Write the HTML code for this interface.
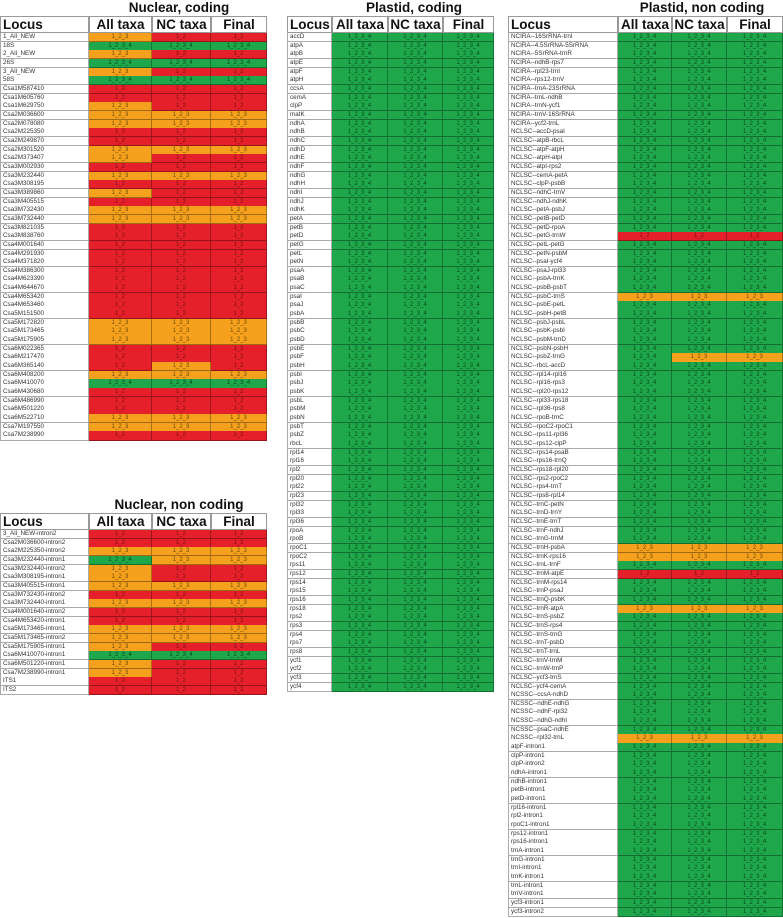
<!DOCTYPE html>
<html><head><meta charset="utf-8">
<style>
html,body{margin:0;padding:0;background:#fff;width:783px;height:918px;overflow:hidden;font-family:"Liberation Sans",Arial,sans-serif;}
#root{position:relative;width:783px;height:918px;}
.t{position:absolute;font-weight:bold;font-size:13.5px;color:#111;white-space:nowrap;transform:translateX(-50%);}
.c{position:absolute;box-sizing:border-box;overflow:hidden;white-space:nowrap;}
.loc{background:#fff;border:1px solid #aaa;border-top:none;font-size:6.3px;color:#333;padding-left:2px;line-height:8px;}
.hd{background:#fff;border:1px solid #999;font-size:13.5px;font-weight:bold;color:#111;line-height:16px;text-align:center;}
.v{border-right:1px solid rgba(0,0,0,0.3);border-bottom:1px solid rgba(0,0,0,0.35);font-size:6px;text-align:center;line-height:8px;}
.r{background:#e5202a;color:#7a1010;}
.o{background:#f6a11d;color:#6b4a00;}
.g{background:#1ea84b;color:#0c4a1e;}
</style></head><body>
<div id="root"></div>
<script>
// ---- data ----
const ncLoci = ["1_All_NEW","18S","2_All_NEW","26S","3_All_NEW","58S","Csa1M587410","Csa1M605760","Csa1M629750","Csa2M036600","Csa2M078080","Csa2M225350","Csa2M249870","Csa2M301520","Csa2M373407","Csa3M002930","Csa3M232440","Csa3M308195","Csa3M389860","Csa3M405515","Csa3M732430","Csa3M732440","Csa3M821035","Csa3M838760","Csa4M001640","Csa4M291930","Csa4M371820","Csa4M386300","Csa4M623390","Csa4M644670","Csa4M653420","Csa4M653460","Csa5M151500","Csa5M172820","Csa5M173465","Csa5M175905","Csa6M022365","Csa6M217470","Csa6M365140","Csa6M408200","Csa6M410070","Csa6M430680","Csa6M486990","Csa6M501220","Csa6M522710","Csa7M197550","Csa7M238990"];
// codes per row: [All taxa, NC taxa, Final]; r=1_2, o=1_2_3, g=1_2_3_4
const ncCodes = ["orr","ggg","orr","ggg","orr","ggg","rrr","rrr","orr","ooo","ooo","rrr","rrr","ooo","orr","rrr","ooo","rrr","orr","rrr","ooo","ooo",
"rrr","rrr","rrr","rrr","rrr","rrr","rrr","rrr","rrr","rrr","rrr",
"ooo","ooo","ooo","rrr","rrr","ror","ooo","ggg","rrr","rrr","rrr","ooo","ooo","rrr"];

const nnLoci = ["3_All_NEW-intron2","Csa2M036600-intron2","Csa2M225350-intron2","Csa3M232440-intron1","Csa3M232440-intron2","Csa3M308195-intron1","Csa3M405515-intron1","Csa3M732430-intron2","Csa3M732440-intron1","Csa4M001640-intron2","Csa4M653420-intron1","Csa5M173465-intron1","Csa5M173465-intron2","Csa5M175905-intron1","Csa6M410070-intron1","Csa6M501220-intron1","Csa7M238990-intron1","ITS1","ITS2"];
const nnCodes = ["rrr","rrr","ooo","goo","orr","orr","ooo","rrr","ooo","rrr","rrr","ooo","ooo","orr","ggg","orr","orr","rrr","rrr"];

const pcLoci = ["accD","atpA","atpB","atpE","atpF","atpH","ccsA","cemA","clpP","matK","ndhA","ndhB","ndhC","ndhD","ndhE","ndhF","ndhG","ndhH","ndhI","ndhJ","ndhK","petA","petB","petD","petG","petL","petN","psaA","psaB","psaC","psaI","psaJ","psbA","psbB","psbC","psbD","psbE","psbF","psbH","psbI","psbJ","psbK","psbL","psbM","psbN","psbT","psbZ","rbcL","rpl14","rpl16","rpl2","rpl20","rpl22","rpl23","rpl32","rpl33","rpl36","rpoA","rpoB","rpoC1","rpoC2","rps11","rps12","rps14","rps15","rps16","rps18","rps2","rps3","rps4","rps7","rps8","ycf1","ycf2","ycf3","ycf4"];
const pcDefault = "ggg";

const pnLoci = ["NCIRA--16SrRNA-trnI","NCIRA--4.5SrRNA-5SrRNA","NCIRA--5SrRNA-trnR","NCIRA--ndhB-rps7","NCIRA--rpl23-trnI","NCIRA--rps12-trnV","NCIRA--trnA-23SrRNA","NCIRA--trnL-ndhB","NCIRA--trnN-ycf1","NCIRA--trnV-16SrRNA","NCIRA--ycf2-trnL",
"NCLSC--accD-psaI","NCLSC--atpB-rbcL","NCLSC--atpF-atpH","NCLSC--atpH-atpI","NCLSC--atpI-rps2","NCLSC--cemA-petA","NCLSC--clpP-psbB","NCLSC--ndhC-trnV","NCLSC--ndhJ-ndhK","NCLSC--petA-psbJ","NCLSC--petB-petD","NCLSC--petD-rpoA","NCLSC--petG-trnW","NCLSC--petL-petG","NCLSC--petN-psbM","NCLSC--psaI-ycf4","NCLSC--psaJ-rpl33","NCLSC--psbA-trnK","NCLSC--psbB-psbT","NCLSC--psbC-trnS","NCLSC--psbE-petL","NCLSC--psbH-petB","NCLSC--psbJ-psbL","NCLSC--psbK-psbI","NCLSC--psbM-trnD","NCLSC--psbN-psbH","NCLSC--psbZ-trnG","NCLSC--rbcL-accD","NCLSC--rpl14-rpl16","NCLSC--rpl16-rps3","NCLSC--rpl20-rps12","NCLSC--rpl33-rps18","NCLSC--rpl36-rps8","NCLSC--rpoB-trnC","NCLSC--rpoC2-rpoC1","NCLSC--rps11-rpl36","NCLSC--rps12-clpP","NCLSC--rps14-psaB","NCLSC--rps16-trnQ","NCLSC--rps18-rpl20","NCLSC--rps2-rpoC2","NCLSC--rps4-trnT","NCLSC--rps8-rpl14","NCLSC--trnC-petN","NCLSC--trnD-trnY","NCLSC--trnE-trnT","NCLSC--trnF-ndhJ","NCLSC--trnG-trnM","NCLSC--trnH-psbA","NCLSC--trnK-rps16","NCLSC--trnL-trnF","NCLSC--trnM-atpE","NCLSC--trnM-rps14","NCLSC--trnP-psaJ","NCLSC--trnQ-psbK","NCLSC--trnR-atpA","NCLSC--trnS-psbZ","NCLSC--trnS-rps4","NCLSC--trnS-trnG","NCLSC--trnT-psbD","NCLSC--trnT-trnL","NCLSC--trnV-trnM","NCLSC--trnW-trnP","NCLSC--ycf3-trnS","NCLSC--ycf4-cemA",
"NCSSC--ccsA-ndhD","NCSSC--ndhE-ndhG","NCSSC--ndhF-rpl32","NCSSC--ndhG-ndhI","NCSSC--psaC-ndhE","NCSSC--rpl32-trnL",
"atpF-intron1","clpP-intron1","clpP-intron2","ndhA-intron1","ndhB-intron1","petB-intron1","petD-intron1","rpl16-intron1","rpl2-intron1","rpoC1-intron1","rps12-intron1","rps16-intron1","trnA-intron1","trnG-intron1","trnI-intron1","trnK-intron1","trnL-intron1","trnV-intron1","ycf3-intron1","ycf3-intron2"];
const pnExceptions = {"NCLSC--petG-trnW":"rrr","NCLSC--psbC-trnS":"ooo","NCLSC--psbZ-trnG":"goo","NCLSC--trnH-psbA":"ooo","NCLSC--trnK-rps16":"ooo","NCLSC--trnM-atpE":"rrr","NCLSC--trnR-atpA":"ooo","NCSSC--rpl32-trnL":"ooo"};

const labels = {r:"1_2", o:"1_2_3", g:"1_2_3_4"};
const ROWH = 8.66;
const root = document.getElementById('root');

function mk(cls, x, y, w, h, txt){
  const d = document.createElement('div');
  d.className = cls;
  d.style.left = x+'px'; d.style.top = y+'px'; d.style.width = w+'px'; d.style.height = h+'px';
  if (txt !== undefined) d.textContent = txt;
  root.appendChild(d);
  return d;
}

function table(name, title, titleX, titleY, cols, headY, loci, codeOf){
  const t = document.createElement('div');
  t.className = 't'; t.style.left = titleX+'px'; t.style.top = titleY+'px';
  t.textContent = title;
  
  
  root.appendChild(t);
  const heads = ["Locus","All taxa","NC taxa","Final"];
  for (let i=0;i<4;i++){
    const h = mk('c hd', cols[i], headY, cols[i+1]-cols[i], 17, heads[i]);
    if (i===0){ h.style.textAlign='left'; h.style.paddingLeft='2px'; }
    
    
  }
  const y0 = headY + 17;
  loci.forEach((l, r) => {
    const y = y0 + r*ROWH;
    const lc = mk('c loc', cols[0], y, cols[1]-cols[0], ROWH+0.5, l);
    
    
    const code = codeOf(r, l);
    for (let k=0;k<3;k++){
      const v = code[k];
      const c = mk('c v '+v, cols[k+1], y, cols[k+2]-cols[k+1], ROWH+0.5, labels[v]);
      
      
    }
  });
}

table('nuclear-coding', 'Nuclear, coding', 179, 0, [0,89,152,211,267], 16, ncLoci, (r)=>ncCodes[r]||"rrr");
table('nuclear-noncoding', 'Nuclear, non coding', 179, 497, [0,89,152,211,267], 513, nnLoci, (r)=>nnCodes[r]||"rrr");
table('plastid-coding', 'Plastid, coding', 414, 0, [287,332,388,443,494], 16, pcLoci, ()=>pcDefault);
table('plastid-noncoding', 'Plastid, non coding', 702, 0, [508,618,672,727,783], 16, pnLoci, (r,l)=>pnExceptions[l]||"ggg");
</script>
</body></html>
